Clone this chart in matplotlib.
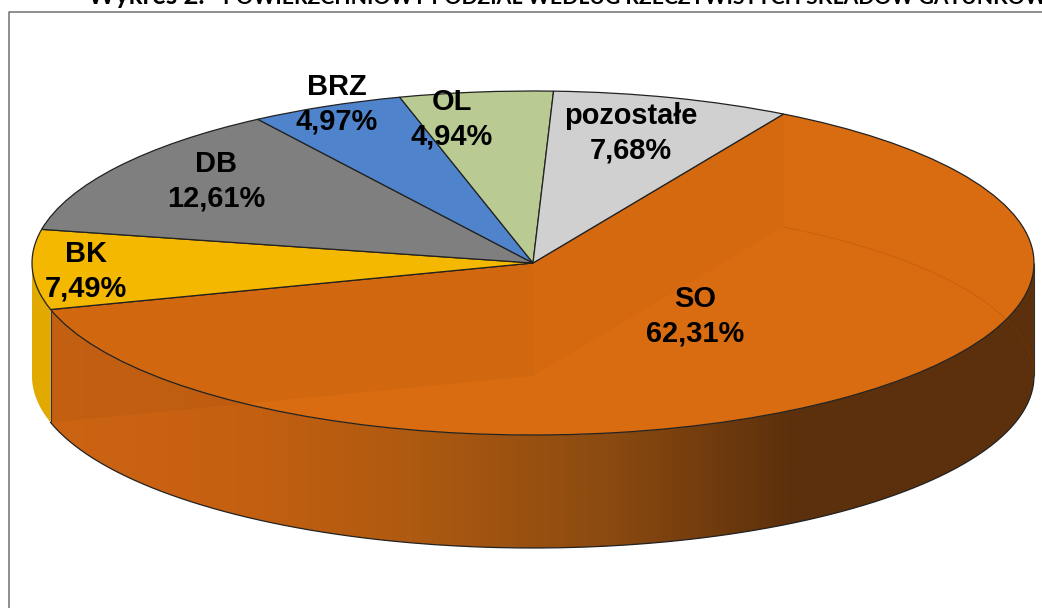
import numpy as np
import matplotlib
matplotlib.use('Agg')
import matplotlib.pyplot as plt
from matplotlib.colors import LinearSegmentedColormap
from matplotlib.patches import Polygon

# Data
categories = ['SO', 'BK', 'DB', 'BRZ', 'OL', 'pozostałe']
shares = [62.31, 7.49, 12.61, 4.97, 4.94, 7.68]
colors = ['#d96c10', '#f4b800', '#7f7f7f', '#4f83cc', '#b9cb92', '#d0d0d0']
title_prefix = 'Wykres 2.'
title_main = 'POWIERZCHNIOWY PODZIAŁ WEDŁUG RZECZYWISTYCH SKŁADÓW GATUNKOWYCH'

W, H = 1042, 608
CX, CY, RX, RY = 533, 263, 501, 172
DEPTH = 113 / RY
START = 60

fig = plt.figure(figsize=(W / 100, H / 100), dpi=100)
ax = fig.add_axes([0, 0, 1, 1])

wedges, _ = ax.pie(shares, colors=colors, startangle=START, counterclock=False, radius=1,
                   wedgeprops={'edgecolor': '#222222', 'linewidth': 0.9, 'zorder': 3})
ax.set_aspect('auto')
ax.axis('off')


def rim(t0, t1, drop=0.0):
    t = np.radians(np.linspace(t0, t1, 200))
    return np.column_stack([np.cos(t), np.sin(t) - drop])


# The pie runs clockwise from START, so SO ends where BK begins
so_end = START - shares[0] * 3.6
so_left = so_end + 360

# Side wall of SO, shaded from the left to the right
side_so = np.vstack([rim(so_left, 360), rim(360, so_left, DEPTH)])
grad = LinearSegmentedColormap.from_list('side', [(0.0, '#cc6413'), (0.2, '#c66011'), (0.38, '#ae5a10'),
                                                  (0.58, '#8a4a10'), (0.76, '#5c300c'), (1.0, '#5c300c')])
img = ax.imshow(np.linspace(0, 1, 512).reshape(1, -1), cmap=grad, aspect='auto', zorder=1,
                extent=(-1, 1, -1 - DEPTH, 1))
clip = Polygon(side_so, closed=True, transform=ax.transData)
img.set_clip_path(clip)
ax.set_xlim(-CX / RX, (W - CX) / RX)
ax.set_ylim((CY - H) / RY, CY / RY)

# Side wall of BK
side_bk = np.vstack([rim(180, so_left), rim(so_left, 180, DEPTH)])
ax.add_patch(Polygon(side_bk, closed=True, facecolor='#e2a900', edgecolor='none', zorder=1))

# Inner walls and floor seen through the translucent SO slice
centre = np.array([[0.0, 0.0]])
centre_low = np.array([[0.0, -DEPTH]])
wall_left = np.vstack([centre, rim(so_left, so_left)[:1], rim(so_left, so_left, DEPTH)[:1], centre_low])
wall_right = np.vstack([centre, rim(START, START)[:1], rim(START, START, DEPTH)[:1], centre_low])
ax.add_patch(Polygon(wall_left, closed=True, facecolor='black', alpha=0.035, edgecolor='none', zorder=4))
ax.add_patch(Polygon(wall_right, closed=True, facecolor='black', alpha=0.018, edgecolor='none', zorder=4))
floor = rim(START, 0, DEPTH)
ax.plot(floor[:, 0], floor[:, 1], color='#8a4508', lw=0.7, alpha=0.25, zorder=4)

# Outlines
low = rim(so_left, 360, DEPTH)
ax.plot(low[:, 0], low[:, 1], color='#222222', lw=0.9, zorder=5)
for t in [so_left, 360]:
    edge = np.vstack([rim(t, t)[:1], rim(t, t, DEPTH)[:1]])
    ax.plot(edge[:, 0], edge[:, 1], color='#333333', lw=0.8, solid_capstyle='butt', zorder=5)

# Data labels, pixel centres of the two line blocks
label_px = [(695, 316), (86, 271), (216, 181), (337, 104), (452, 119), (631, 133)]
for name, val, (px, py) in zip(categories, shares, label_px):
    txt = name + '\n' + f'{val:.2f}'.replace('.', ',') + '%'
    fig.text(px / W, 1 - py / H, txt, ha='center', va='center', fontsize=20.9, fontweight='bold',
             family='Liberation Sans', color='black', linespacing=1.3, zorder=10)

# Chart frame, running off the right and bottom of the crop
fig.add_artist(plt.Line2D([9 / W, 9 / W, 1], [0, 1 - 12 / H, 1 - 12 / H], color='#707070', lw=1.1))

# Title is cut by the top and right edges, as in the source image
fig.text(88 / W, 1 - 4.5 / H, title_prefix, ha='left', va='baseline', fontsize=18.5, fontweight='bold',
         family='Lato', color='black')
fig.text(223 / W, 1 - 4.5 / H, title_main, ha='left', va='baseline', fontsize=15.25, fontweight='bold',
         family='Lato', color='black')

plt.savefig('out.png', dpi=100, facecolor='white')
